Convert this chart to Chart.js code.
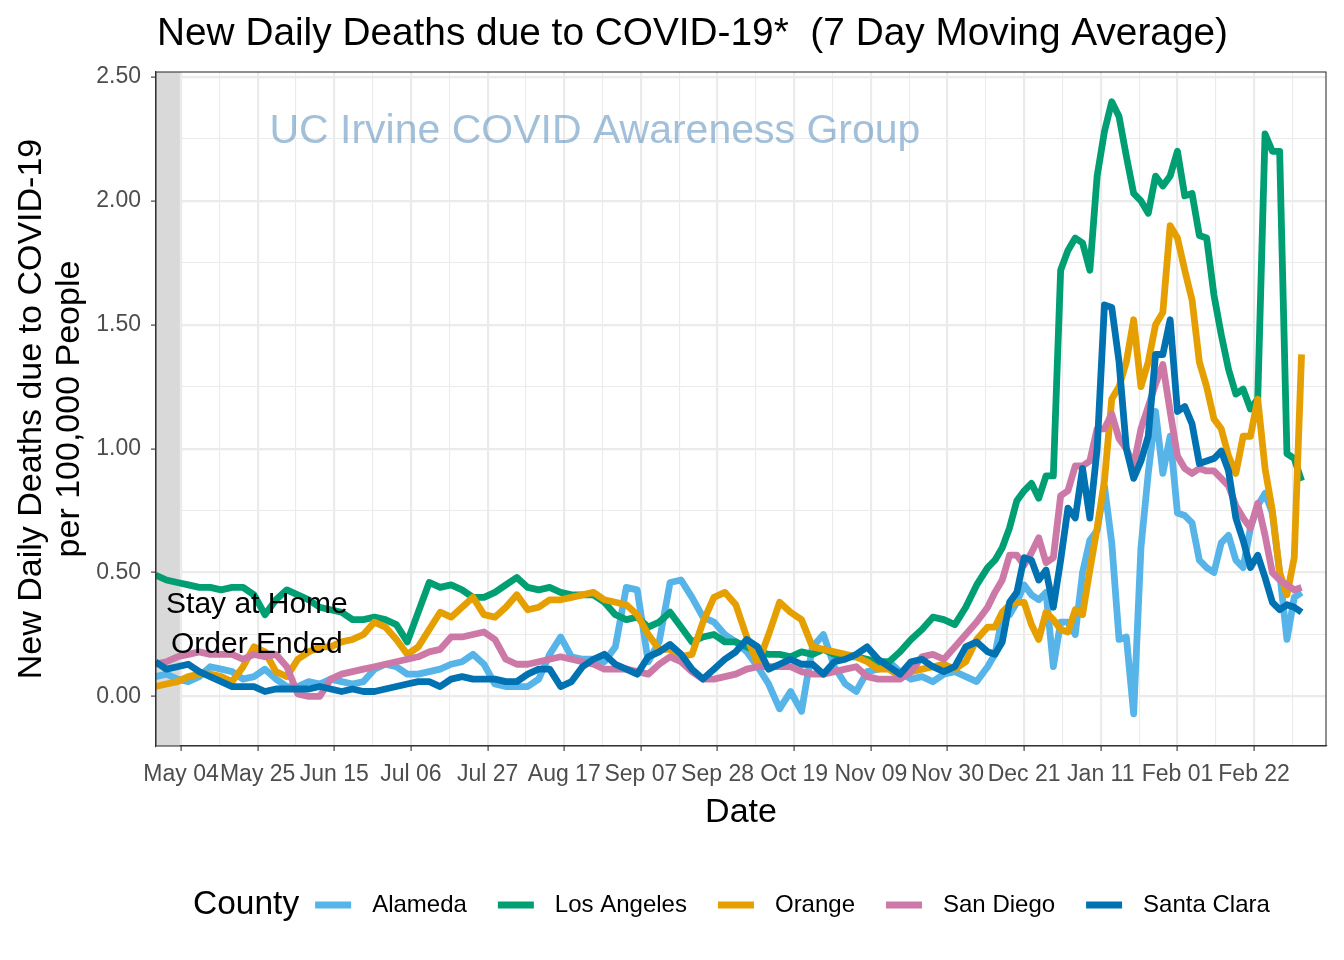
<!DOCTYPE html>
<html><head><meta charset="utf-8">
<script src="https://cdn.jsdelivr.net/npm/chart.js@4.4.1/dist/chart.umd.min.js"></script>
<style>html,body{margin:0;padding:0;background:#fff;}canvas{display:block;}</style>
</head><body>
<canvas id="c" width="1344" height="960"></canvas>
<script>
// Day offsets relative to May 04 2020
const days = [-7,-4,-1,2,5,8,11,14,17,20,23,26,29,32,35,38,41,44,47,50,53,56,59,62,65,68,71,74,77,80,83,86,89,92,95,98,101,104,107,110,113,116,119,122,125,128,131,134,137,140,143,146,149,152,155,158,161,164,167,170,173,176,179,182,185,188,191,194,197,200,203,206,209,212,215,218,221,
223,225,227,229,231,233,235,237,239,241,243,245,247,249,251,253,255,257,259,261,263,265,267,269,271,273,275,277,279,281,283,285,287,289,291,293,295,297,299,301,303,305,307];

const alameda = [.08,.09,.07,.06,.08,.12,.11,.10,.07,.08,.11,.07,.04,.04,.06,.05,.07,.06,.05,.06,.11,.13,.12,.09,.09,.10,.11,.13,.14,.17,.13,.05,.04,.04,.04,.07,.17,.24,.16,.15,.15,.14,.20,.44,.43,.14,.22,.46,.47,.40,.32,.30,.25,.22,.18,.12,.05,-.05,.02,-.06,.20,.25,.12,.05,.02,.10,.11,.14,.10,.07,.08,.06,.09,.10,.08,.06,.12,
.17,.32,.33,.38,.45,.41,.39,.42,.12,.30,.30,.25,.50,.63,.67,.85,.62,.23,.24,-.07,.60,.90,1.15,.90,1.05,.74,.73,.70,.55,.52,.50,.62,.65,.55,.52,.68,.77,.82,.74,.50,.23,.40,.42];

const losAngeles = [.49,.47,.46,.45,.44,.44,.43,.44,.44,.41,.33,.39,.43,.41,.39,.36,.35,.34,.31,.31,.32,.31,.29,.22,.34,.46,.44,.45,.43,.40,.40,.42,.45,.48,.44,.43,.44,.42,.41,.41,.41,.38,.33,.31,.32,.28,.30,.34,.28,.22,.24,.25,.22,.22,.20,.18,.17,.17,.16,.18,.17,.19,.17,.16,.16,.15,.14,.14,.18,.23,.27,.32,.31,.29,.36,.45,.52,
.55,.60,.68,.79,.83,.86,.80,.89,.89,1.72,1.80,1.85,1.83,1.72,2.10,2.28,2.40,2.34,2.18,2.03,2.00,1.95,2.10,2.06,2.10,2.20,2.02,2.03,1.86,1.85,1.62,1.46,1.32,1.22,1.24,1.16,1.20,2.27,2.20,2.20,.98,.96,.87];

const orange = [.04,.05,.06,.08,.09,.09,.08,.06,.12,.20,.18,.10,.08,.15,.18,.20,.20,.22,.23,.25,.30,.28,.23,.17,.20,.27,.34,.32,.36,.40,.33,.32,.36,.41,.35,.36,.39,.39,.40,.41,.42,.39,.38,.37,.33,.25,.19,.19,.16,.17,.30,.40,.42,.37,.24,.13,.25,.38,.34,.31,.20,.19,.18,.17,.16,.14,.11,.11,.08,.10,.11,.12,.13,.11,.14,.23,.28,
.28,.34,.37,.38,.38,.29,.23,.34,.31,.27,.26,.35,.33,.51,.68,.87,1.20,1.25,1.35,1.52,1.25,1.35,1.50,1.55,1.90,1.85,1.72,1.60,1.35,1.25,1.12,1.08,.97,.90,1.05,1.05,1.20,.92,.75,.50,.41,.56,1.38];

const sanDiego = [.13,.14,.16,.17,.18,.17,.17,.17,.15,.17,.16,.17,.12,.01,0,0,.07,.09,.10,.11,.12,.13,.14,.15,.16,.18,.19,.24,.24,.25,.26,.23,.15,.13,.13,.14,.15,.16,.15,.14,.13,.11,.11,.11,.10,.09,.13,.16,.14,.10,.07,.07,.08,.09,.11,.12,.12,.12,.12,.10,.09,.09,.10,.11,.12,.08,.07,.07,.07,.10,.16,.17,.15,.20,.25,.30,.36,
.42,.47,.57,.57,.53,.58,.64,.54,.56,.81,.83,.93,.93,.95,1.08,1.08,1.14,1.04,1.00,.93,1.08,1.17,1.26,1.34,1.15,.97,.92,.90,.92,.91,.91,.88,.85,.77,.72,.68,.78,.65,.50,.47,.45,.43,.44];

const santaClara = [.14,.11,.12,.13,.10,.08,.06,.04,.04,.04,.02,.03,.03,.03,.03,.04,.03,.02,.03,.02,.02,.03,.04,.05,.06,.06,.04,.07,.08,.07,.07,.07,.06,.06,.09,.11,.11,.04,.06,.12,.15,.17,.13,.11,.09,.16,.18,.21,.17,.11,.07,.11,.15,.18,.23,.20,.11,.13,.15,.13,.13,.09,.14,.15,.17,.20,.15,.12,.09,.14,.15,.12,.10,.12,.20,.22,.18,
.17,.22,.38,.42,.56,.55,.47,.51,.36,.55,.76,.72,.92,.72,1.00,1.58,1.57,1.35,1.00,.88,.95,1.05,1.38,1.38,1.52,1.15,1.17,1.10,.94,.95,.96,.99,.91,.72,.63,.52,.57,.48,.38,.35,.37,.36,.34];

const seriesNames = ['Alameda','Los Angeles','Orange','San Diego','Santa Clara'];
const seriesData = [alameda, losAngeles, orange, sanDiego, santaClara];
const seriesColors = ['#56B4E9','#009E73','#E69F00','#CC79A7','#0072B2'];

const xTickDays = [0,21,42,63,84,105,126,147,168,189,210,231,252,273,294];
const xTickLabels = ['May 04','May 25','Jun 15','Jul 06','Jul 27','Aug 17','Sep 07','Sep 28','Oct 19','Nov 09','Nov 30','Dec 21','Jan 11','Feb 01','Feb 22'];
const xMinorDays = [10.5,31.5,52.5,73.5,94.5,115.5,136.5,157.5,178.5,199.5,220.5,241.5,262.5,283.5,304.5];
const yTickValues = [0,0.5,1,1.5,2,2.5];
const yTickLabels = ['0.00','0.50','1.00','1.50','2.00','2.50'];
const yMinorValues = [0.25,0.75,1.25,1.75,2.25];

const FONT = '"Liberation Sans", Arial, Helvetica, sans-serif';
const X_MIN = -6.85, X_MAX = 313.7, Y_MIN = -0.2, Y_MAX = 2.52;
const BAND_END = -0.3;
const LINE_W = 6.8;

const isMajorX = v => xTickDays.indexOf(v) >= 0;
const isMajorY = v => yTickValues.some(t => Math.abs(t - v) < 1e-9);

const datasets = seriesNames.map((name, i) => ({
  label: name,
  data: days.map((d, k) => ({x: d, y: seriesData[i][k]})),
  borderColor: seriesColors[i],
  backgroundColor: seriesColors[i],
  borderWidth: LINE_W,
  pointRadius: 0,
  tension: 0,
  fill: false,
  borderJoinStyle: 'round',
  order: 5 - i
}));

const deco = {
  id: 'deco',
  beforeDraw(chart) {
    const c = chart.ctx;
    c.save(); c.fillStyle = '#fff'; c.fillRect(0, 0, chart.width, chart.height); c.restore();
  },
  beforeDatasetsDraw(chart) {
    const {ctx, chartArea: a, scales: {x, y}} = chart;
    ctx.save();
    ctx.fillStyle = '#D9D9D9';
    const xb = x.getPixelForValue(BAND_END);
    ctx.fillRect(a.left, a.top, xb - a.left, a.bottom - a.top);
    ctx.font = '41px ' + FONT;
    ctx.fillStyle = 'rgba(70,130,180,0.5)';
    ctx.textAlign = 'center';
    ctx.textBaseline = 'middle';
    ctx.fillText('UC Irvine COVID Awareness Group', x.getPixelForValue(113.4), y.getPixelForValue(2.28));
    ctx.restore();
  },
  afterDatasetsDraw(chart) {
    const {ctx, chartArea: a, scales: {x, y}} = chart;
    ctx.save();
    ctx.font = '30px ' + FONT;
    ctx.fillStyle = '#000';
    ctx.textAlign = 'center';
    ctx.textBaseline = 'middle';
    ctx.fillText('Stay at Home', x.getPixelForValue(20.8), y.getPixelForValue(0.372));
    ctx.fillText('Order Ended', x.getPixelForValue(20.8), y.getPixelForValue(0.207));
    ctx.strokeStyle = '#333';
    ctx.lineWidth = 1.1;
    ctx.strokeRect(a.left, a.top, a.right - a.left, a.bottom - a.top);
    ctx.restore();
  },
  afterDraw(chart) {
    const {ctx, chartArea: a} = chart;
    ctx.save();
    ctx.fillStyle = '#000';
    ctx.textBaseline = 'alphabetic';
    // main title
    ctx.textAlign = 'left';
    ctx.font = '38.8px ' + FONT;
    ctx.fillText('New Daily Deaths due to COVID-19*  (7 Day Moving Average)', a.left + 1, 45);
    // x title
    ctx.textAlign = 'center';
    ctx.font = '34px ' + FONT;
    ctx.fillText('Date', (a.left + a.right) / 2, 822);
    // y title
    ctx.save();
    ctx.translate(41, (a.top + a.bottom) / 2);
    ctx.rotate(-Math.PI / 2);
    ctx.fillText('New Daily Deaths due to COVID-19', 0, 0);
    ctx.restore();
    ctx.save();
    ctx.translate(79, (a.top + a.bottom) / 2);
    ctx.rotate(-Math.PI / 2);
    ctx.fillText('per 100,000 People', 0, 0);
    ctx.restore();
    // legend
    const ly = 905;
    ctx.textAlign = 'left';
    ctx.textBaseline = 'middle';
    ctx.font = '33.5px ' + FONT;
    let lx = 193;
    ctx.fillText('County', lx, ly);
    lx += ctx.measureText('County').width + 16;
    ctx.font = '24px ' + FONT;
    seriesNames.forEach((name, i) => {
      ctx.strokeStyle = seriesColors[i];
      ctx.lineWidth = LINE_W;
      ctx.beginPath(); ctx.moveTo(lx, ly); ctx.lineTo(lx + 36, ly); ctx.stroke();
      lx += 57;
      ctx.fillStyle = '#000';
      ctx.fillText(name, lx, ly);
      lx += ctx.measureText(name).width + 31;
    });
    ctx.restore();
  }
};

new Chart(document.getElementById('c'), {
  type: 'line',
  data: { datasets },
  options: {
    responsive: false,
    animation: false,
    devicePixelRatio: 1,
    layout: { padding: { top: 72, right: 18, bottom: 0, left: 0 } },
    plugins: { legend: { display: false }, title: { display: false }, tooltip: { enabled: false } },
    scales: {
      x: {
        type: 'linear', min: X_MIN, max: X_MAX,
        afterBuildTicks: s => { s.ticks = xTickDays.concat(xMinorDays).sort((p, q) => p - q).map(v => ({value: v})); },
        afterFit: s => { s.height = 214; },
        ticks: {
          autoSkip: false, maxRotation: 0, minRotation: 0, padding: 10,
          color: '#4D4D4D', font: { family: FONT, size: 23 },
          callback: v => { const i = xTickDays.indexOf(v); return i >= 0 ? xTickLabels[i] : ''; }
        },
        grid: {
          color: '#EBEBEB',
          lineWidth: c => (c.tick && isMajorX(c.tick.value)) ? 2.2 : 1.1,
          tickColor: c => (c.tick && isMajorX(c.tick.value)) ? '#333333' : 'rgba(0,0,0,0)',
          tickLength: 5, tickWidth: 1.1
        },
        border: { display: true, color: '#333333', width: 1.1 }
      },
      y: {
        type: 'linear', min: Y_MIN, max: Y_MAX,
        afterBuildTicks: s => { s.ticks = yTickValues.concat(yMinorValues).sort((p, q) => p - q).map(v => ({value: v})); },
        afterFit: s => { s.width = 156; },
        ticks: {
          autoSkip: false, padding: 10,
          color: '#4D4D4D', font: { family: FONT, size: 23 },
          callback: v => { const i = yTickValues.findIndex(t => Math.abs(t - v) < 1e-9); return i >= 0 ? yTickLabels[i] : ''; }
        },
        grid: {
          color: '#EBEBEB',
          lineWidth: c => (c.tick && isMajorY(c.tick.value)) ? 2.2 : 1.1,
          tickColor: c => (c.tick && isMajorY(c.tick.value)) ? '#333333' : 'rgba(0,0,0,0)',
          tickLength: 5, tickWidth: 1.1
        },
        border: { display: true, color: '#333333', width: 1.1 }
      }
    }
  },
  plugins: [deco]
});
</script>
</body></html>
